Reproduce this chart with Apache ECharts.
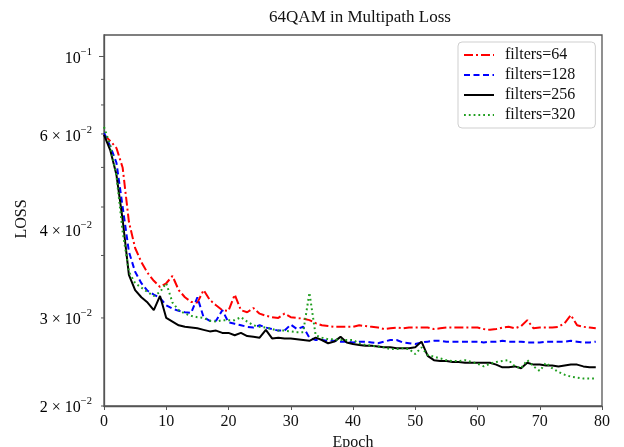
<!DOCTYPE html>
<html><head><meta charset="utf-8">
<script src="https://cdn.jsdelivr.net/npm/echarts@6/dist/echarts.min.js"></script>
<style>html,body{margin:0;padding:0;background:#fff}#c{width:624px;height:447px}</style>
</head><body><div id="c"></div>
<script>
const seriesNames = ['filters=64', 'filters=128', 'filters=256', 'filters=320'];
const loss64 = [0.0697,0.0678,0.0656,0.0599,0.0467,0.0414,0.0388,0.0369,0.0356,0.0346,
0.0352,0.0364,0.0341,0.0330,0.0323,0.0322,0.0341,0.0326,0.0318,0.0311,
0.0310,0.0334,0.0311,0.0308,0.0314,0.0306,0.0303,0.0301,0.0300,0.0306,
0.0301,0.0300,0.0299,0.0297,0.0293,0.0290,0.0289,0.0288,0.0288,0.0288,
0.0288,0.0290,0.0289,0.0288,0.0287,0.0285,0.0286,0.0287,0.0286,0.0287,
0.0287,0.0287,0.0287,0.0285,0.0286,0.0287,0.0287,0.0287,0.0287,0.0287,
0.0287,0.0285,0.0284,0.0285,0.0287,0.0288,0.0286,0.0289,0.0297,0.0286,
0.0287,0.0287,0.0287,0.0288,0.0293,0.0304,0.0290,0.0288,0.0287,0.0286];
const loss128 = [0.0703,0.0662,0.0613,0.0500,0.0407,0.0371,0.0352,0.0340,0.0334,0.0329,
0.0318,0.0313,0.0310,0.0308,0.0307,0.0330,0.0301,0.0296,0.0296,0.0311,
0.0294,0.0292,0.0290,0.0288,0.0287,0.0290,0.0287,0.0285,0.0283,0.0283,
0.0291,0.0285,0.0288,0.0274,0.0271,0.0271,0.0270,0.0270,0.0269,0.0269,
0.0268,0.0269,0.0269,0.0268,0.0267,0.0269,0.0271,0.0271,0.0268,0.0267,
0.0266,0.0268,0.0269,0.0270,0.0270,0.0269,0.0269,0.0269,0.0269,0.0269,
0.0269,0.0268,0.0269,0.0269,0.0270,0.0269,0.0269,0.0269,0.0268,0.0268,
0.0268,0.0269,0.0269,0.0269,0.0269,0.0270,0.0269,0.0268,0.0268,0.0269];
const loss256 = [0.0697,0.0650,0.0580,0.0471,0.0366,0.0341,0.0330,0.0322,0.0311,0.0332,
0.0300,0.0295,0.0290,0.0288,0.0287,0.0286,0.0284,0.0282,0.0283,0.0280,
0.0280,0.0277,0.0280,0.0276,0.0275,0.0274,0.0284,0.0273,0.0274,0.0273,
0.0273,0.0272,0.0271,0.0270,0.0274,0.0271,0.0267,0.0269,0.0275,0.0268,
0.0266,0.0265,0.0264,0.0264,0.0263,0.0262,0.0262,0.0261,0.0261,0.0261,
0.0262,0.0269,0.0252,0.0247,0.0246,0.0246,0.0245,0.0245,0.0244,0.0244,
0.0244,0.0244,0.0244,0.0242,0.0239,0.0239,0.0240,0.0238,0.0244,0.0242,
0.0242,0.0241,0.0241,0.0240,0.0241,0.0242,0.0242,0.0240,0.0239,0.0239];
const loss320 = [0.0723,0.0665,0.0577,0.0446,0.0371,0.0352,0.0345,0.0338,0.0332,0.0338,
0.0352,0.0322,0.0311,0.0306,0.0303,0.0301,0.0300,0.0296,0.0295,0.0297,
0.0297,0.0297,0.0301,0.0295,0.0290,0.0288,0.0287,0.0285,0.0283,0.0283,
0.0282,0.0281,0.0281,0.0337,0.0277,0.0274,0.0272,0.0272,0.0271,0.0271,
0.0271,0.0267,0.0265,0.0264,0.0263,0.0262,0.0260,0.0260,0.0261,0.0260,
0.0254,0.0262,0.0253,0.0251,0.0249,0.0247,0.0246,0.0246,0.0247,0.0245,
0.0243,0.0240,0.0243,0.0245,0.0246,0.0247,0.0240,0.0238,0.0247,0.0240,
0.0235,0.0244,0.0238,0.0234,0.0231,0.0229,0.0228,0.0227,0.0227,0.0227];

// y-axis tick marks (true log positions) and tick labels (as placed in the figure)
const yTickValues = [0.02, 0.03, 0.04, 0.05, 0.06, 0.07, 0.08, 0.09, 0.1];
const yMajorTicks = [0.1];
const yLabelValues = [0.02, 0.03, 0.045, 0.0697, 0.1];
const yLabelBase = ['2 × 10', '3 × 10', '4 × 10', '6 × 10', '10'];
const yLabelExp = ['−2', '−2', '−2', '−2', '−1'];

const FONT = '"Liberation Serif", "Times New Roman", serif';
const colors = ['#ff0000', '#0000ff', '#000000', '#1f9e1f'];
const dashes = [[9, 3, 2, 3], [6, 3.5], 'solid', [1.8, 3]];
const allData = [loss64, loss128, loss256, loss320];

const chart = echarts.init(document.getElementById('c'), null, {renderer: 'canvas'});
const GRID = {left: 104, top: 35, width: 498, height: 371};

chart.setOption({
  animation: false,
  backgroundColor: '#fff',
  title: {
    text: '64QAM in Multipath Loss', left: 360, top: 9, textAlign: 'center', padding: 0,
    textStyle: {fontFamily: FONT, fontSize: 17, fontWeight: 'normal', color: '#111'}
  },
  legend: {
    orient: 'vertical', left: 458, top: 42,
    padding: [5, 20, 5, 5], itemGap: 4, itemWidth: 30, itemHeight: 14,
    backgroundColor: '#fff', borderColor: '#cfcfcf', borderWidth: 1, borderRadius: 4,
    itemStyle: {opacity: 0, borderWidth: 0},
    textStyle: {fontFamily: FONT, fontSize: 16, lineHeight: 16, color: '#111', padding: [0, 0, 0, 6]},
    data: seriesNames
  },
  grid: Object.assign({show: true, borderColor: '#555', borderWidth: 1.3, backgroundColor: '#fff',
    outerBoundsMode: 'none', containLabel: false}, GRID),
  xAxis: {
    type: 'value', min: 0, max: 80, interval: 10,
    name: 'Epoch', nameLocation: 'middle', nameGap: 21,
    nameTextStyle: {fontFamily: FONT, fontSize: 16, color: '#111'},
    axisLine: {show: true, lineStyle: {color: '#555', width: 1.3}},
    axisTick: {show: true, inside: false, length: 4, lineStyle: {color: '#555'}},
    axisLabel: {margin: 8, fontFamily: FONT, fontSize: 16, color: '#111'},
    splitLine: {show: false}
  },
  yAxis: {
    type: 'log', logBase: 10, min: 0.02, max: 0.1104,
    axisLine: {show: true, lineStyle: {color: '#555', width: 1.3}},
    axisTick: {show: false}, axisLabel: {show: false},
    splitLine: {show: false}, minorTick: {show: false}
  },
  series: seriesNames.map((n, k) => ({
    name: n, type: 'line', symbol: 'none', showSymbol: false,
    data: allData[k].map((v, i) => [i, v]),
    lineStyle: {color: colors[k], width: 2, type: dashes[k], cap: 'butt'},
    itemStyle: {color: colors[k]},
    emphasis: {disabled: true}, z: 2 + k
  }))
});

// Draw y ticks and labels using the axis scale
const axisX = GRID.left;
const graphics = [];
yTickValues.forEach(v => {
  const py = chart.convertToPixel({yAxisIndex: 0}, v);
  const len = yMajorTicks.indexOf(v) >= 0 ? 5 : 3;
  graphics.push({type: 'line', silent: true, z: 10,
    shape: {x1: axisX - len, y1: py, x2: axisX, y2: py},
    style: {stroke: '#555', lineWidth: 1}});
});
yLabelValues.forEach((v, i) => {
  const py = chart.convertToPixel({yAxisIndex: 0}, v);
  graphics.push({type: 'text', silent: true, z: 10, x: 92, y: py,
    style: {
      text: '{a|' + yLabelBase[i] + '}{b|' + yLabelExp[i] + '}',
      align: 'right', verticalAlign: 'middle',
      rich: {
        a: {fontFamily: FONT, fontSize: 16, color: '#111', lineHeight: 20, verticalAlign: 'bottom'},
        b: {fontFamily: FONT, fontSize: 10.5, color: '#111', lineHeight: 11, verticalAlign: 'top'}
      }
    }});
});
graphics.push({type: 'text', silent: true, x: 22, y: 219, rotation: Math.PI / 2,
  style: {text: 'LOSS', fontFamily: FONT, fontSize: 16, fill: '#111', align: 'center', verticalAlign: 'middle'}});
chart.setOption({graphic: graphics});
</script></body></html>
